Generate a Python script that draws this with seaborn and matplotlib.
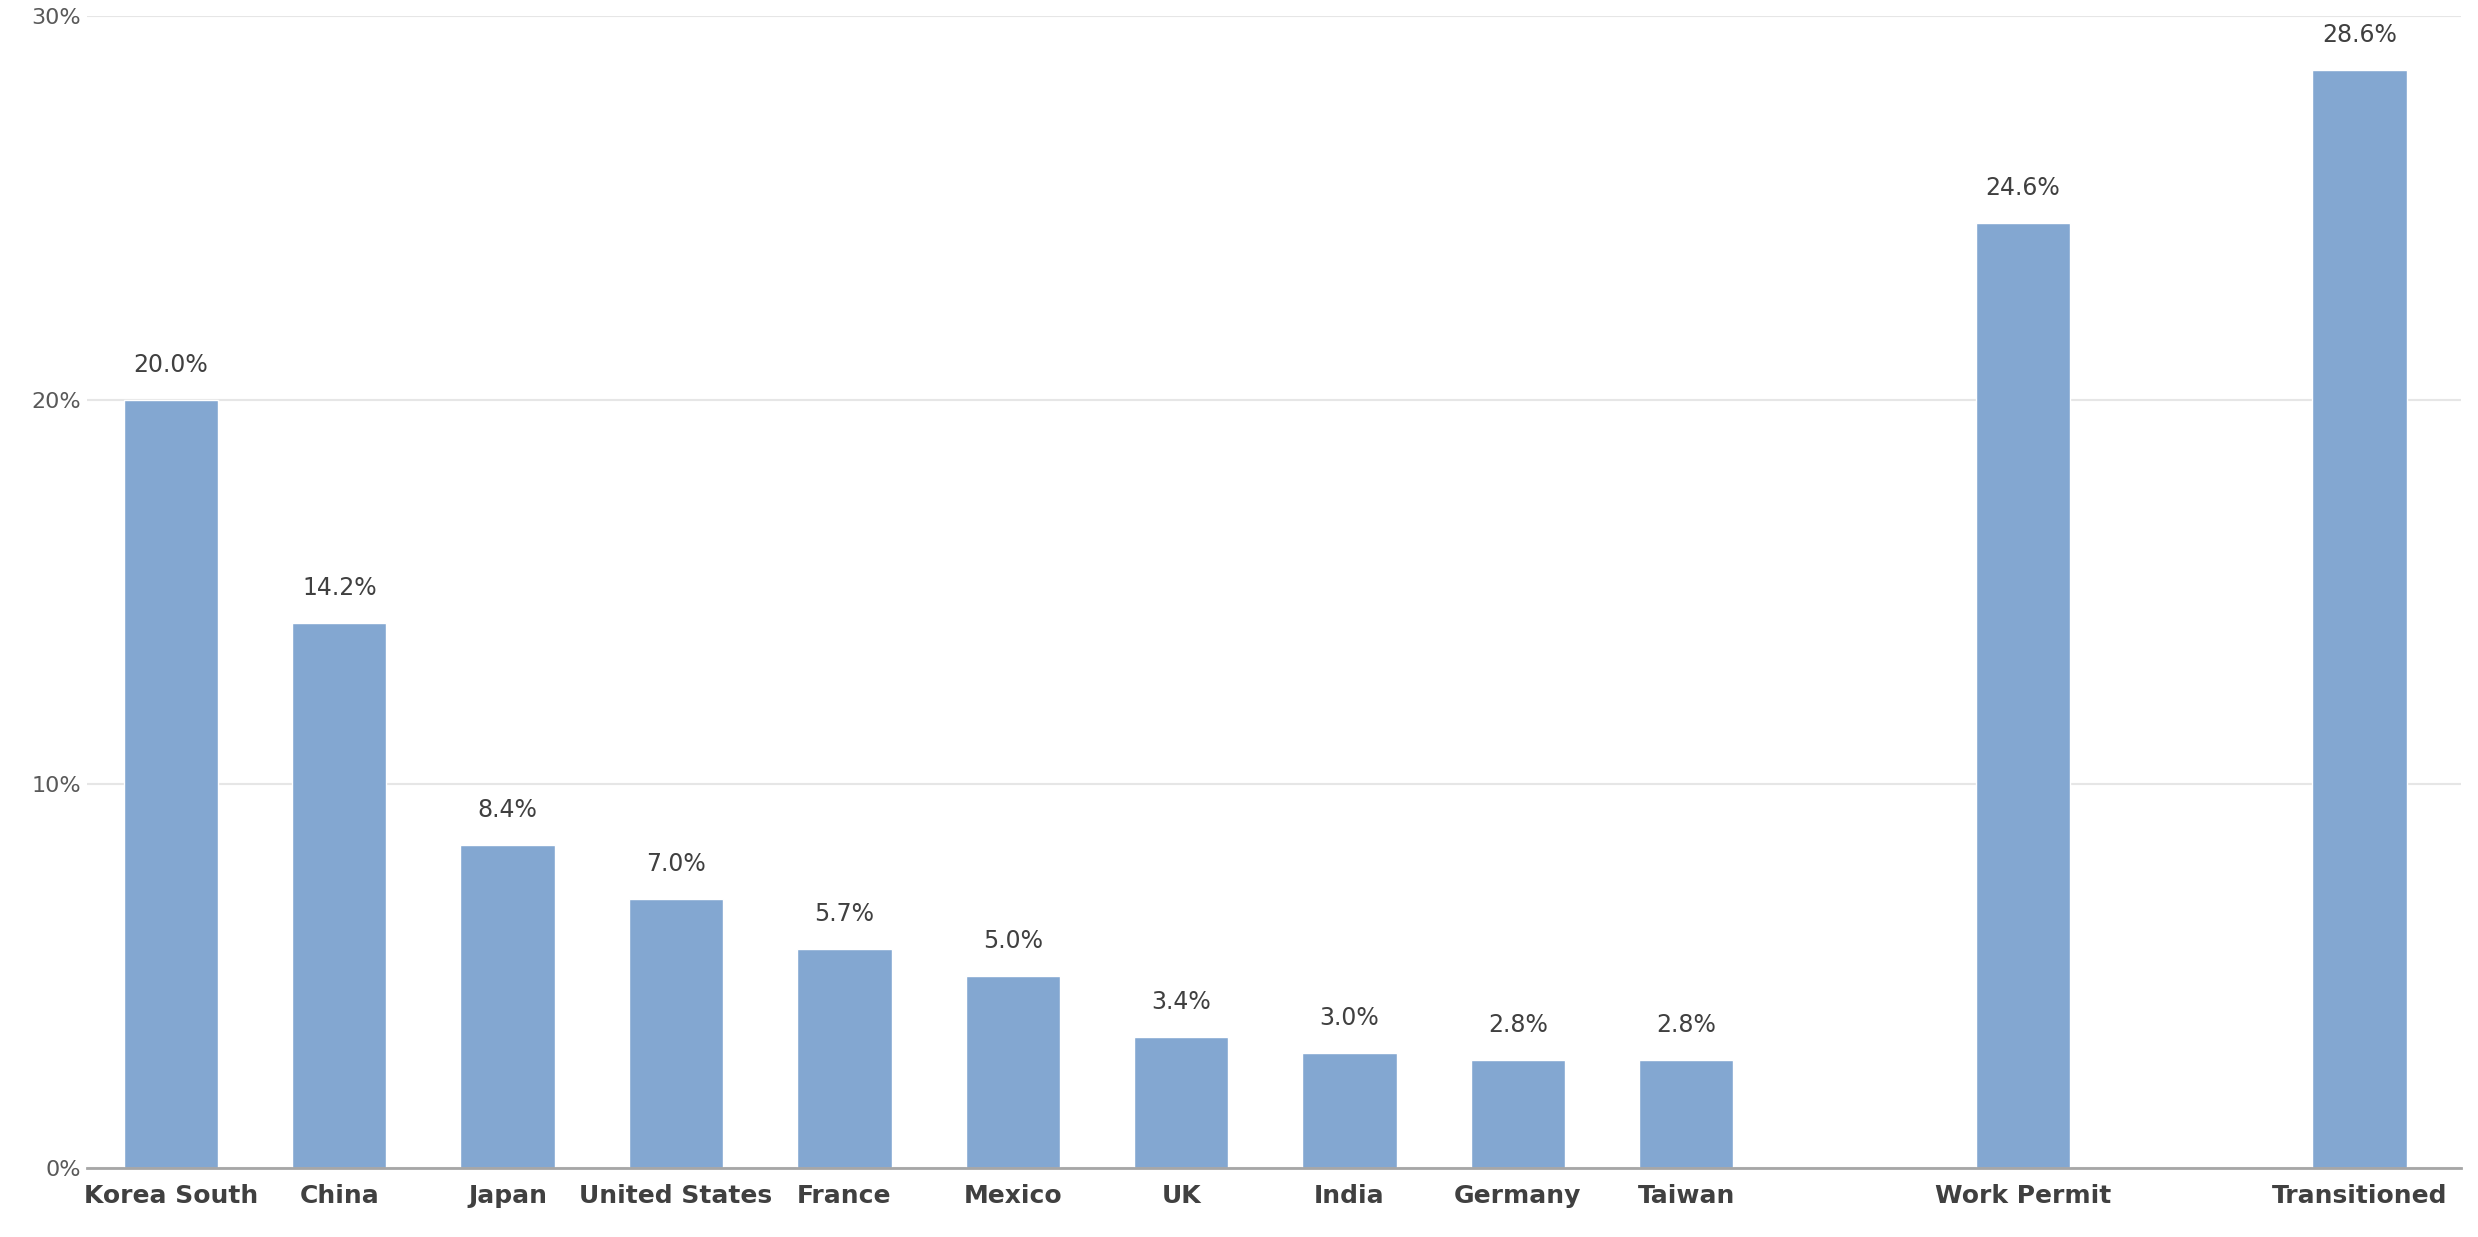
import matplotlib
matplotlib.use("Agg")
import matplotlib.pyplot as plt
import seaborn as sns
import pandas as pd

CATEGORIES = ["Korea South", "China", "Japan", "United States", "France", "Mexico",
              "UK", "India", "Germany", "Taiwan", "Work Permit", "Transitioned"]
VALUES = [20.0, 14.2, 8.4, 7.0, 5.7, 5.0, 3.4, 3.0, 2.8, 2.8, 24.6, 28.6]
# empty slots between the groups
ORDER = CATEGORIES[:10] + [" "] + ["Work Permit", "  ", "Transitioned"]
BAR_COLOR = "#83A7D1"

df = pd.DataFrame({"cat": CATEGORIES, "val": VALUES})

sns.set_theme(style="white")
plt.rcParams["font.family"] = ["DejaVu Sans"]

fig = plt.figure(figsize=(24.78, 12.37), dpi=100)
ax = fig.add_axes([0.035, 0.056, 0.958, 0.931])

sns.barplot(data=df, x="cat", y="val", order=ORDER, color=BAR_COLOR,
            width=0.56, saturation=1, ax=ax)

for p in ax.patches:
    h = p.get_height()
    if h > 0:
        ax.text(p.get_x() + p.get_width() / 2, h + 0.6, f"{h:.1f}%",
                ha="center", va="bottom", fontsize=17, color="#404040")

ax.set_ylim(0, 30)
ax.set_yticks([0, 10, 20, 30])
ax.set_yticklabels(["0%", "10%", "20%", "30%"], fontsize=16, color="#595959")
ax.set_xlim(-0.5, 13.6)
ax.set_xticks(range(len(ORDER)))
ax.set_xticklabels([c.strip() for c in ORDER], fontsize=18, fontweight="bold", color="#404040")
ax.tick_params(axis="x", length=0, pad=12)
ax.tick_params(axis="y", length=0, pad=4)
ax.set_xlabel("")
ax.set_ylabel("")
ax.yaxis.grid(True, color="#E6E6E6", linewidth=1.5)
ax.set_axisbelow(True)
for s in ["top", "right", "left"]:
    ax.spines[s].set_visible(False)
ax.spines["bottom"].set_color("#A6A6A6")
ax.spines["bottom"].set_linewidth(2)

fig.savefig("out.png", dpi=100)
